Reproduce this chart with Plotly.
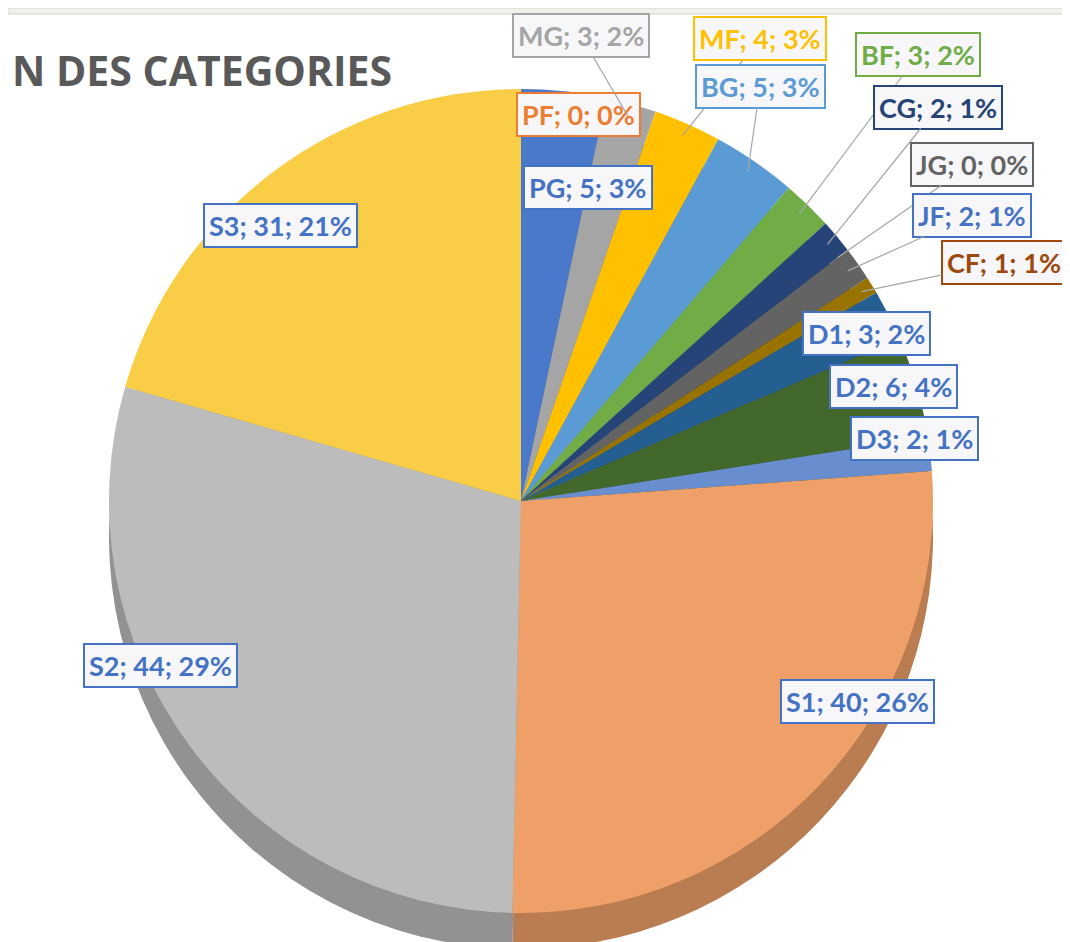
import math
import plotly.graph_objects as go

# ---- data ----
categories = ["PG", "PF", "MG", "MF", "BG", "BF", "CG", "JG", "JF", "CF",
              "D1", "D2", "D3", "S1", "S2", "S3"]
values = [5, 0, 3, 4, 5, 3, 2, 0, 2, 1, 3, 6, 2, 40, 44, 31]
title_text = "N DES CATEGORIES"

# ---- styles ----
slice_colors = ["#4A78CB", "#ED7D31", "#A5A5A5", "#FFC000", "#5B9BD5", "#70AD47",
                "#264478", "#9E480E", "#636363", "#997300", "#255E91", "#43682B",
                "#698ED0", "#EFA068", "#BCBCBC", "#F9CD45"]
label_colors = ["#4472C4", "#ED7D31", "#A5A5A5", "#FFC000", "#5B9BD5", "#70AD47",
                "#264478", "#636363", "#4472C4", "#9E480E", "#4472C4", "#4472C4",
                "#4472C4", "#4472C4", "#4472C4", "#4472C4"]
# label box centres in pixels (layout), and whether a leader line is drawn
label_pos = {
    "PG": (580, 179), "PF": (570, 107), "MG": (573, 28), "MF": (752, 31),
    "BG": (752, 79), "BF": (910, 47), "CG": (930, 99), "JG": (964, 156),
    "JF": (964, 207), "CF": (996, 254), "D1": (858, 326), "D2": (885, 378),
    "D3": (906, 430), "S1": (849, 693), "S2": (152, 657), "S3": (272, 218),
}
leader = {"MG", "MF", "BG", "BF", "CG", "JG", "JF", "CF"}

W, H = 1070, 942
CX, CY, R = 513, 493, 412
DEPTH = 36


def darker(hex_color, f=0.78):
    h = hex_color.lstrip("#")
    r, g, b = (int(h[i:i + 2], 16) for i in (0, 2, 4))
    return "#%02X%02X%02X" % (int(r * f), int(g * f), int(b * f))


def domain(cx, cy, r):
    return dict(x=[(cx - r) / W, (cx + r) / W], y=[1 - (cy + r) / H, 1 - (cy - r) / H])


fig = go.Figure()
# side (depth) of the pie: same data, darker, shifted down
fig.add_trace(go.Pie(
    labels=categories, values=values, sort=False, direction="clockwise", rotation=0,
    marker=dict(colors=[darker(c) for c in slice_colors], line=dict(width=0)),
    textinfo="none", hoverinfo="skip", showlegend=False,
    domain=domain(CX, CY + DEPTH, R),
))
# top face
fig.add_trace(go.Pie(
    labels=categories, values=values, sort=False, direction="clockwise", rotation=0,
    marker=dict(colors=slice_colors, line=dict(width=0)),
    textinfo="none", showlegend=False,
    domain=domain(CX, CY, R),
))

total = sum(values)
annotations = []
cum = 0
for name, v, col in zip(categories, values, label_colors):
    mid = (cum + v / 2) / total * 2 * math.pi
    cum += v
    pct = round(v / total * 100)
    text = f"{name}; {v}; {pct}%"
    tx, ty = label_pos[name]
    common = dict(
        text=text, font=dict(family="Lato", size=27, color=col, weight="bold"),
        bgcolor="#F7F7F9", bordercolor=col, borderwidth=2, borderpad=4,
        xref="paper", yref="paper",
    )
    if name in leader:
        hx = CX + 0.97 * R * math.sin(mid)
        hy = CY - 0.97 * R * math.cos(mid)
        annotations.append(dict(
            x=hx / W, y=1 - hy / H, ax=tx - hx, ay=ty - hy,
            showarrow=True, arrowhead=0, arrowwidth=1.2, arrowcolor="#A6A6A6",
            standoff=0, **common))
    else:
        annotations.append(dict(x=tx / W, y=1 - ty / H, showarrow=False,
                                xanchor="center", yanchor="middle", **common))

annotations.append(dict(
    text=title_text, x=0.002, y=1 - 62 / H, xref="paper", yref="paper",
    xanchor="left", yanchor="middle", showarrow=False,
    font=dict(family="Open Sans", size=41, color="#595959", weight="bold"),
))

fig.update_layout(
    width=W, height=H, margin=dict(l=0, r=0, t=0, b=0),
    paper_bgcolor="white", plot_bgcolor="white",
    annotations=annotations,
    shapes=[dict(type="rect", xref="paper", yref="paper", x0=0, x1=1,
                 y0=1 - 6 / H, y1=1, fillcolor="#EEF1E8",
                 line=dict(color="#D4D6D0", width=1), layer="below")],
)

fig.write_html("out.html")
